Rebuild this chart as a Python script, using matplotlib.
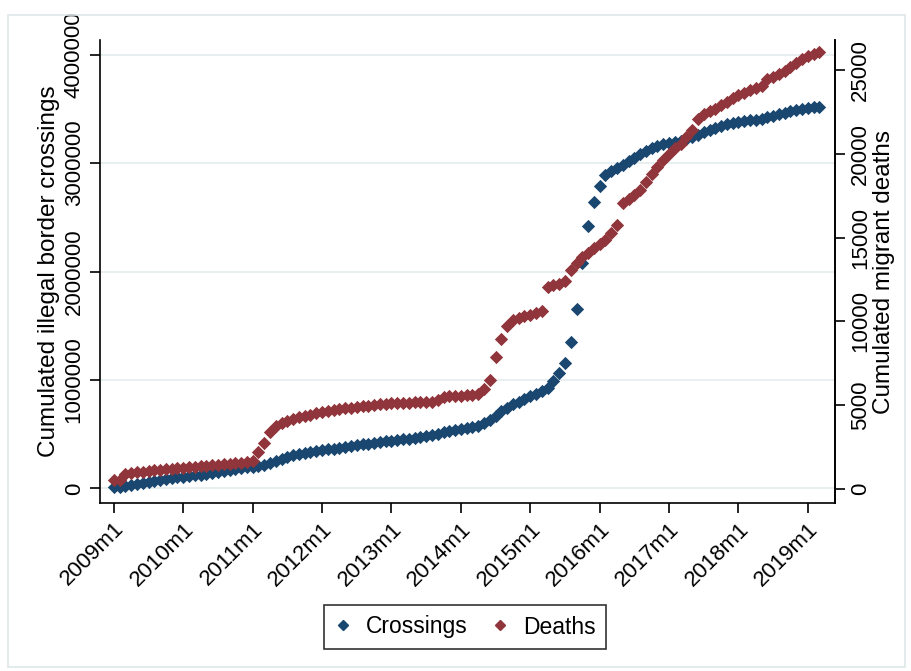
import matplotlib
matplotlib.use('Agg')
import matplotlib.pyplot as plt
from matplotlib.lines import Line2D
from matplotlib.patches import Rectangle
import numpy as np

plt.rcParams['font.family'] = ['Liberation Sans', 'DejaVu Sans']
plt.rcParams['axes.linewidth'] = 1.2

# Data: monthly cumulated values, 2009m1 .. 2019m3
crossings_m = [
    0.010, 0.018, 0.025, 0.033, 0.042, 0.052, 0.062, 0.072, 0.082, 0.090, 0.097, 0.103,
    0.108, 0.114, 0.120, 0.126, 0.133, 0.141, 0.150, 0.160, 0.170, 0.180, 0.188, 0.195,
    0.200, 0.207, 0.218, 0.235, 0.255, 0.272, 0.290, 0.305, 0.318, 0.328, 0.338, 0.347,
    0.355, 0.362, 0.368, 0.375, 0.382, 0.390, 0.398, 0.406, 0.414, 0.422, 0.430, 0.436,
    0.442, 0.447, 0.452, 0.457, 0.463, 0.470, 0.480, 0.492, 0.505, 0.518, 0.530, 0.540,
    0.548, 0.556, 0.566, 0.580, 0.600, 0.630, 0.670, 0.710, 0.745, 0.775, 0.800, 0.825,
    0.855, 0.875, 0.900, 0.930, 0.990, 1.060, 1.160, 1.350, 1.650, 2.080, 2.420, 2.640,
    2.790, 2.890, 2.925, 2.955, 2.985, 3.020, 3.050, 3.085, 3.115, 3.140, 3.160, 3.175,
    3.185, 3.195, 3.205, 3.220, 3.240, 3.260, 3.285, 3.305, 3.325, 3.345, 3.360, 3.370,
    3.378, 3.385, 3.392, 3.400, 3.410, 3.422, 3.435, 3.450, 3.465, 3.478, 3.490, 3.500,
    3.508, 3.515, 3.520,
]
deaths = [
    540, 560, 900, 950, 990, 1030, 1070, 1110, 1150, 1180, 1210, 1240,
    1270, 1300, 1330, 1360, 1390, 1420, 1450, 1480, 1510, 1540, 1570, 1600,
    1700, 2200, 2750, 3400, 3750, 3950, 4050, 4200, 4270, 4350, 4430, 4520,
    4600, 4660, 4710, 4760, 4810, 4850, 4890, 4930, 4970, 5010, 5050, 5090,
    5120, 5140, 5150, 5160, 5170, 5180, 5190, 5220, 5300, 5480, 5520, 5550,
    5570, 5590, 5610, 5640, 5950, 6500, 7880, 8960, 9700, 10100, 10200, 10300,
    10400, 10500, 10650, 12060, 12150, 12250, 12400, 13070, 13500, 13850, 14100, 14350,
    14600, 14850, 15250, 15750, 17070, 17300, 17550, 17850, 18300, 18800, 19220, 19640,
    20000, 20350, 20600, 21000, 21400, 22100, 22350, 22550, 22700, 22900, 23100, 23300,
    23500, 23650, 23800, 23920, 24050, 24450, 24600, 24750, 24950, 25150, 25400, 25650,
    25850, 25950, 26050,
]
years = list(range(2009, 2020))
left_ticks = [0, 1000000, 2000000, 3000000, 4000000]
right_ticks = [0, 5000, 10000, 15000, 20000, 25000]

crossings = np.array(crossings_m) * 1e6
months = np.arange(len(crossings))

navy = '#1a476f'
maroon = '#90353b'
grid_col = '#e6eef0'

fig = plt.figure(figsize=(9.11, 6.71), dpi=100)
fig.patches.append(Rectangle((8 / 911, 4 / 671), 897 / 911, 652 / 671,
                             transform=fig.transFigure, fill=False,
                             edgecolor='#dfe7ea', linewidth=1.2))

ax = fig.add_axes([100 / 911, 1 - 503 / 671, 735 / 911, 463 / 671])
ax2 = ax.twinx()

ax.scatter(months, crossings, marker='D', s=46, color=navy, linewidths=0, zorder=3)
ax2.scatter(months, deaths, marker='D', s=46, color=maroon, linewidths=0, zorder=3)

ax.set_xlim(-2.4, 124.7)
ax.set_ylim(-0.134e6, 4.134e6)
ax2.set_ylim(-835, 26790)

ax.set_yticks(left_ticks)
ax.set_yticklabels([str(v) for v in left_ticks], rotation=90, va='center')
ax2.set_yticks(right_ticks)
ax2.set_yticklabels([str(v) for v in right_ticks], rotation=90, va='center')

ax.set_xticks([(y - 2009) * 12 for y in years])
ax.set_xticklabels(['%dm1' % y for y in years], rotation=45, ha='right',
                   rotation_mode='anchor')

ax.grid(True, axis='y', color=grid_col, linewidth=1.3)
ax.set_axisbelow(True)

for a in (ax, ax2):
    a.spines['top'].set_visible(False)
    a.tick_params(length=7, width=1.2, labelsize=16, colors='black', pad=4)
ax2.spines['left'].set_visible(False)
ax2.spines['bottom'].set_visible(False)

ax.set_ylabel('Cumulated illegal border crossings', fontsize=17.5, labelpad=3)
ax2.set_ylabel('Cumulated migrant deaths', fontsize=17.5, labelpad=1)

handles = [
    Line2D([], [], linestyle='none', marker='D', markersize=5, color=navy),
    Line2D([], [], linestyle='none', marker='D', markersize=5, color=maroon),
]
leg = fig.legend(handles, ['Crossings', 'Deaths'], loc='center',
                 bbox_to_anchor=(465 / 911, 1 - 627 / 671), ncol=2,
                 fontsize=16.5, frameon=True, fancybox=False, edgecolor='black',
                 handlelength=0.8, handletextpad=0.6, columnspacing=1.0,
                 borderpad=0.45)
leg.get_frame().set_linewidth(1.2)

fig.savefig('out.png', dpi=100)
